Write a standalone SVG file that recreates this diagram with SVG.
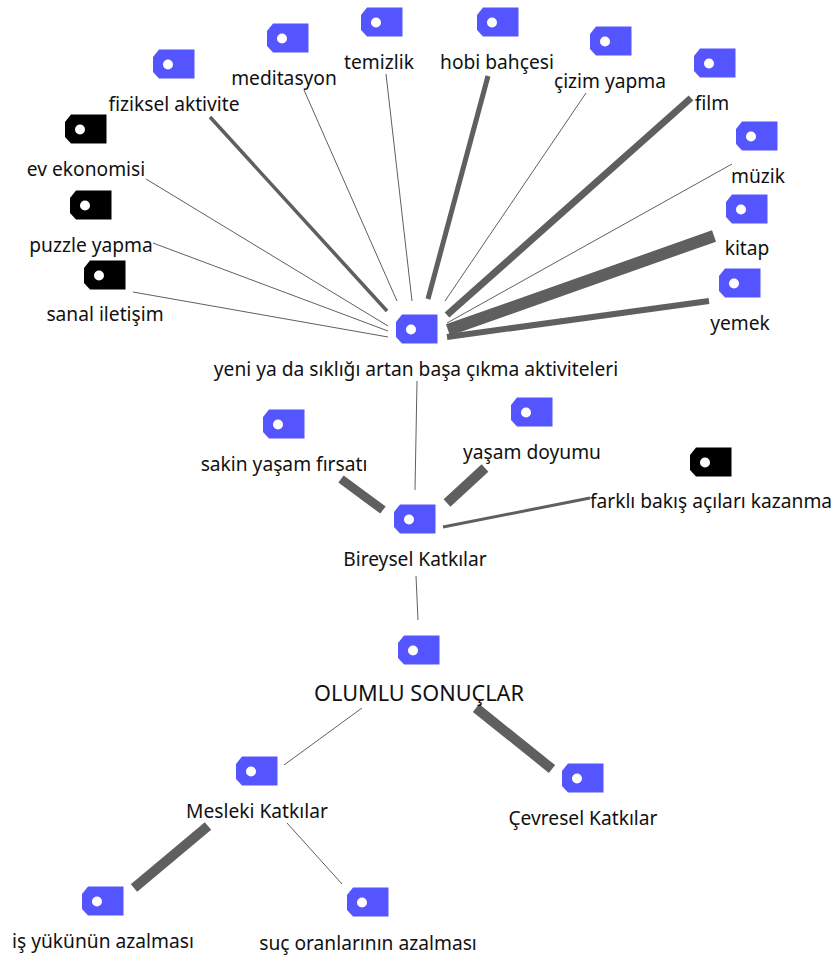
<svg xmlns="http://www.w3.org/2000/svg" width="835" height="961" viewBox="0 0 835 961">
<style>
text{font-family:"Noto Sans","Open Sans",sans-serif;font-size:19.200px;fill:#111;text-anchor:middle}
.c{stroke:#5f5f5f;fill:none}
.b{fill:#5555ff}.k{fill:#000}
</style>
<defs>
<g id="hole"><circle cx="-6" cy="0.500" r="5" fill="#fff"/></g>
<path id="tag" d="M-21-7-15-14.500H20.500V14.500H-15L-21 8Z"/>
</defs>
<rect width="835" height="961" fill="#fff"/>
<g id="connectors">
<path class="c" stroke-width="3.500" d="M210 117 387 311"/>
<path class="c" stroke-width="1" d="M304 90 397 301"/>
<path class="c" stroke-width="1" d="M386 74 412 301"/>
<path class="c" stroke-width="5" d="M488 76 428 299"/>
<path class="c" stroke-width="1" d="M586 93 445 301"/>
<path class="c" stroke-width="7" d="M691 98 447 315"/>
<path class="c" stroke-width="1" d="M732 164 447 323"/>
<path class="c" stroke-width="12" d="M714 236 448 330"/>
<path class="c" stroke-width="6" d="M709 301 447 337"/>
<path class="c" stroke-width="1" d="M146 179 388 326"/>
<path class="c" stroke-width="1" d="M153 243 388 331"/>
<path class="c" stroke-width="1" d="M133 292 388 337"/>
<path class="c" stroke-width="1" d="M417 381 415 490"/>
<path class="c" stroke-width="9" d="M341 479 383 510"/>
<path class="c" stroke-width="10" d="M485 468 447 503"/>
<path class="c" stroke-width="3" d="M590 498 443 527"/>
<path class="c" stroke-width="1" d="M416 576 418 620"/>
<path class="c" stroke-width="1" d="M362 708 284 765"/>
<path class="c" stroke-width="10" d="M476 708 552 769"/>
<path class="c" stroke-width="10" d="M208 826 134 888"/>
<path class="c" stroke-width="1" d="M287 823 342 884"/>
</g>
<g id="n1"><use href="#tag" class="b" x="174" y="64"/><use href="#hole" x="174" y="64"/><text x="174" y="111">fiziksel aktivite</text></g>
<g id="n2"><use href="#tag" class="b" x="288" y="38"/><use href="#hole" x="288" y="38"/><text x="284" y="85">meditasyon</text></g>
<g id="n3"><use href="#tag" class="b" x="382" y="22"/><use href="#hole" x="382" y="22"/><text x="379" y="69">temizlik</text></g>
<g id="n4"><use href="#tag" class="b" x="498" y="22"/><use href="#hole" x="498" y="22"/><text x="497" y="69">hobi bahçesi</text></g>
<g id="n5"><use href="#tag" class="b" x="611" y="41"/><use href="#hole" x="611" y="41"/><text x="610" y="88">çizim yapma</text></g>
<g id="n6"><use href="#tag" class="b" x="715" y="63"/><use href="#hole" x="715" y="63"/><text x="712" y="110">film</text></g>
<g id="n7"><use href="#tag" class="b" x="757" y="136"/><use href="#hole" x="757" y="136"/><text x="758" y="183">müzik</text></g>
<g id="n8"><use href="#tag" class="b" x="747" y="209"/><use href="#hole" x="747" y="209"/><text x="747" y="255">kitap</text></g>
<g id="n9"><use href="#tag" class="b" x="740" y="283"/><use href="#hole" x="740" y="283"/><text x="740" y="330">yemek</text></g>
<g id="n10"><use href="#tag" class="k" x="86" y="129"/><use href="#hole" x="86" y="129"/><text x="86" y="176">ev ekonomisi</text></g>
<g id="n11"><use href="#tag" class="k" x="91" y="205"/><use href="#hole" x="91" y="205"/><text x="91" y="252">puzzle yapma</text></g>
<g id="n12"><use href="#tag" class="k" x="105" y="275"/><use href="#hole" x="105" y="275"/><text x="105" y="321">sanal iletişim</text></g>
<g id="n13"><use href="#tag" class="b" x="417" y="329"/><use href="#hole" x="417" y="329"/><text x="416" y="376">yeni ya da sıklığı artan başa çıkma aktiviteleri</text></g>
<g id="n14"><use href="#tag" class="b" x="284" y="424"/><use href="#hole" x="284" y="424"/><text x="284" y="471">sakin yaşam fırsatı</text></g>
<g id="n15"><use href="#tag" class="b" x="532" y="412"/><use href="#hole" x="532" y="412"/><text x="532" y="459">yaşam doyumu</text></g>
<g id="n16"><use href="#tag" class="k" x="711" y="462"/><use href="#hole" x="711" y="462"/><text x="711" y="508">farklı bakış açıları kazanma</text></g>
<g id="n17"><use href="#tag" class="b" x="415" y="519"/><use href="#hole" x="415" y="519"/><text x="415" y="566">Bireysel Katkılar</text></g>
<g id="n18"><use href="#tag" class="b" x="419" y="650"/><use href="#hole" x="419" y="650"/><text x="419" y="701" style="font-size:21.700px">OLUMLU SONUÇLAR</text></g>
<g id="n19"><use href="#tag" class="b" x="257" y="771"/><use href="#hole" x="257" y="771"/><text x="257" y="818">Mesleki Katkılar</text></g>
<g id="n20"><use href="#tag" class="b" x="583" y="778"/><use href="#hole" x="583" y="778"/><text x="583" y="825">Çevresel Katkılar</text></g>
<g id="n21"><use href="#tag" class="b" x="103" y="901"/><use href="#hole" x="103" y="901"/><text x="103" y="948">iş yükünün azalması</text></g>
<g id="n22"><use href="#tag" class="b" x="368" y="902"/><use href="#hole" x="368" y="902"/><text x="368" y="950">suç oranlarının azalması</text></g>
</svg>
